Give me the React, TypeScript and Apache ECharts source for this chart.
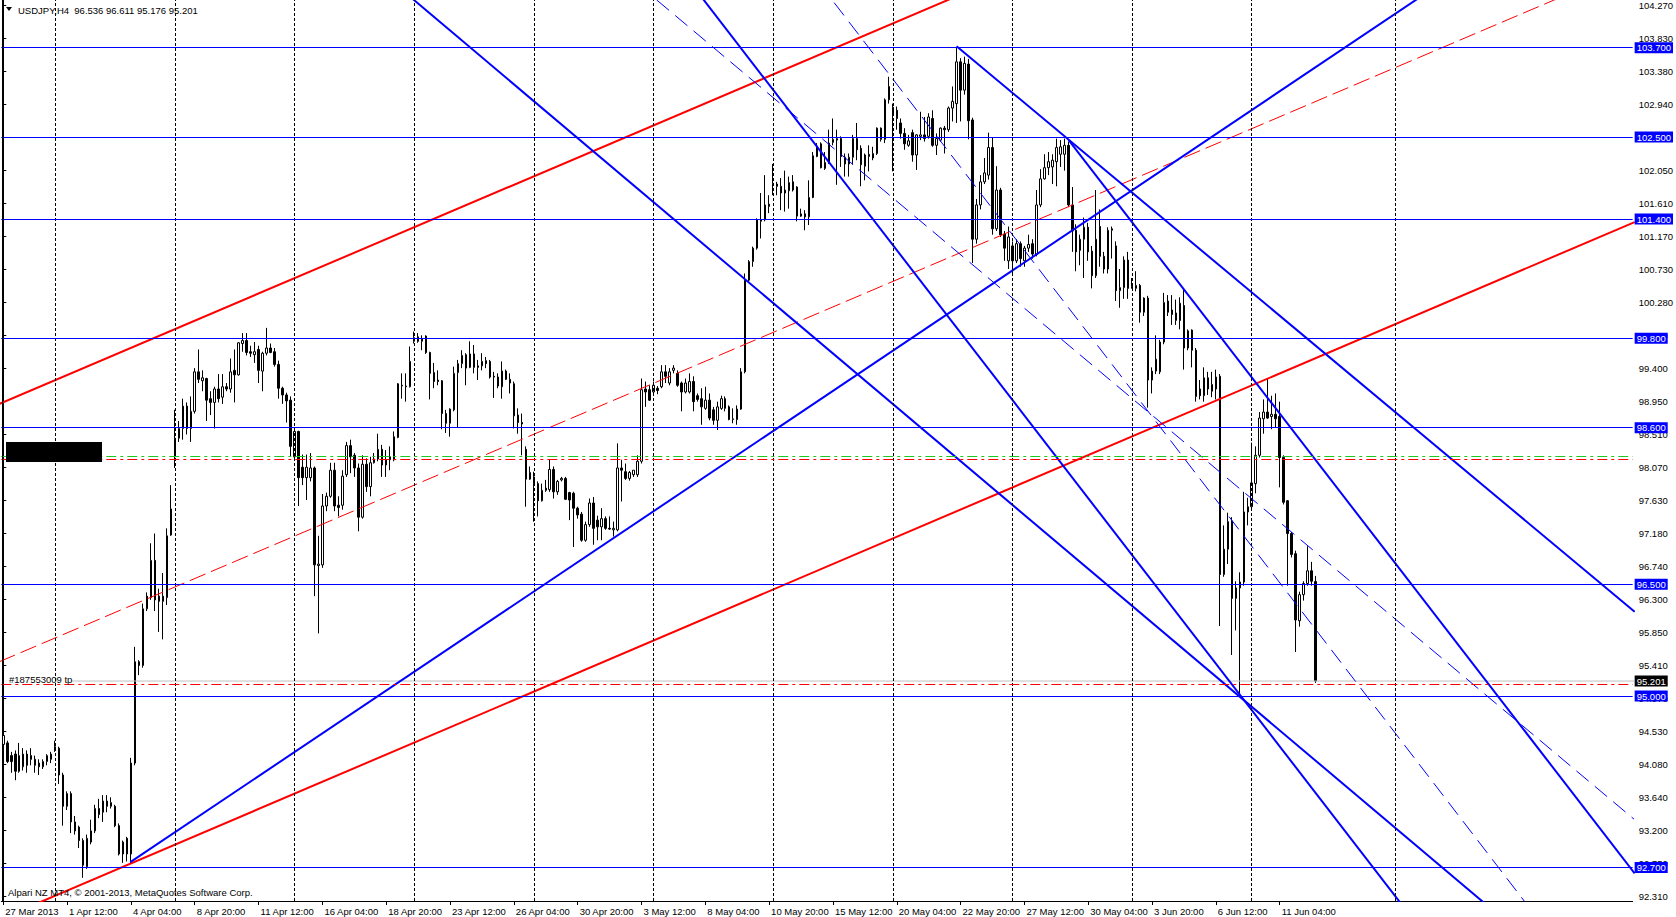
import React, { useEffect, useRef } from "react";
import * as echarts from "echarts";

const FONT = "'Liberation Sans', Arial, sans-serif";

// x-axis time labels (every 16th H4 bar)
const timeLabels = [
  "27 Mar 2013", "1 Apr 12:00", "4 Apr 04:00", "8 Apr 20:00", "11 Apr 12:00", "16 Apr 04:00",
  "18 Apr 20:00", "23 Apr 12:00", "26 Apr 04:00", "30 Apr 20:00", "3 May 12:00", "8 May 04:00",
  "10 May 20:00", "15 May 12:00", "20 May 04:00", "22 May 20:00", "27 May 12:00", "30 May 04:00",
  "3 Jun 20:00", "6 Jun 12:00", "11 Jun 04:00",
];

// y-axis tick labels
const priceTicks = [
  92.31, 92.75, 93.2, 93.64, 94.08, 94.53, 94.97, 95.41, 95.85, 96.3, 96.74, 97.18, 97.63, 98.07,
  98.51, 98.95, 99.4, 99.84, 100.28, 100.73, 101.17, 101.61, 102.05, 102.5, 102.94, 103.38, 103.83, 104.27,
];

// H4 candles: [open, high, low, close]
const ohlc: number[][] = [
  [94.35, 94.5, 94.32, 94.47], [94.37, 94.4, 94.1, 94.12], [94.2, 94.25, 93.97, 94.12], [94.22, 94.27, 93.87, 93.99],
  [93.99, 94.37, 93.97, 94.2], [94.05, 94.3, 94.0, 94.22], [94.22, 94.27, 93.97, 94.07], [94.2, 94.3, 94.07, 94.15],
  [94.15, 94.2, 93.97, 94.07], [94.1, 94.15, 93.94, 94.05],
  // 10
  [94.05, 94.15, 94.02, 94.12], [94.12, 94.22, 94.07, 94.2], [94.15, 94.25, 94.1, 94.22], [94.27, 94.4, 94.25, 94.32],
  [94.3, 94.32, 93.82, 93.94], [93.94, 93.97, 93.26, 93.52], [93.52, 93.72, 93.47, 93.69], [93.69, 93.72, 93.16, 93.31],
  [93.31, 93.39, 93.14, 93.19], [93.24, 93.26, 92.96, 93.06],
  // 20
  [93.06, 93.09, 92.56, 92.73], [92.71, 93.14, 92.68, 93.09], [93.04, 93.34, 93.01, 93.19], [93.19, 93.54, 93.16, 93.49],
  [93.49, 93.62, 93.36, 93.41], [93.44, 93.67, 93.31, 93.59], [93.59, 93.67, 93.44, 93.52], [93.52, 93.64, 93.49, 93.57],
  [93.52, 93.54, 93.24, 93.26], [93.26, 93.29, 92.86, 92.88],
  // 30
  [92.88, 93.06, 92.76, 93.04], [93.09, 93.11, 92.78, 92.88], [92.88, 94.17, 92.76, 94.1], [94.1, 95.66, 94.07, 95.46],
  [95.46, 95.48, 95.28, 95.41], [95.41, 96.24, 95.38, 96.17], [96.17, 96.39, 96.14, 96.34], [96.32, 97.05, 96.29, 96.82],
  [96.82, 97.18, 96.14, 96.29], [96.34, 96.44, 95.86, 96.27],
  // 40
  [96.27, 96.65, 95.76, 96.34], [96.32, 97.25, 96.22, 97.15], [97.16, 97.83, 97.15, 97.51], [98.21, 98.84, 98.06, 98.46],
  [98.46, 98.69, 98.41, 98.59], [98.59, 98.99, 98.44, 98.89], [98.89, 98.94, 98.51, 98.59], [98.59, 99.02, 98.41, 98.82],
  [98.82, 99.4, 98.79, 99.35], [99.35, 99.65, 99.2, 99.25],
  // 50
  [99.23, 99.37, 99.09, 99.27], [99.26, 99.27, 98.69, 98.97], [98.99, 99.09, 98.77, 98.94], [98.94, 99.15, 98.59, 99.12],
  [99.12, 99.32, 98.94, 98.99], [99.01, 99.32, 98.92, 99.15], [99.15, 99.2, 99.09, 99.12], [99.12, 99.53, 99.07, 99.35],
  [99.37, 99.65, 98.94, 99.31], [99.31, 99.75, 99.3, 99.74],
  // 60
  [99.73, 99.87, 99.62, 99.77], [99.77, 99.87, 99.57, 99.61], [99.62, 99.7, 99.55, 99.6], [99.58, 99.75, 99.47, 99.62],
  [99.65, 99.7, 99.2, 99.37], [99.36, 99.62, 99.09, 99.6], [99.6, 99.94, 99.57, 99.67], [99.67, 99.73, 99.6, 99.61],
  [99.62, 99.67, 99.42, 99.45], [99.45, 99.5, 98.99, 99.13],
  // 70
  [99.13, 99.15, 98.92, 99.04], [99.04, 99.07, 98.67, 98.96], [98.97, 99.02, 98.21, 98.35], [98.21, 98.59, 98.19, 98.55],
  [98.55, 98.56, 97.55, 97.93], [98.07, 98.24, 97.83, 97.93], [97.93, 98.24, 97.63, 98.07], [97.93, 98.26, 97.88, 98.06],
  [98.06, 98.08, 96.34, 96.76], [96.75, 97.15, 95.84, 96.77],
  // 80
  [96.76, 97.71, 96.72, 97.55], [97.55, 97.73, 97.48, 97.68], [97.68, 98.13, 97.66, 98.03], [98.03, 98.13, 97.48, 97.55],
  [97.56, 97.68, 97.41, 97.53], [97.56, 98.03, 97.5, 97.95], [97.97, 98.41, 97.94, 98.36], [98.36, 98.44, 97.99, 98.21],
  [98.23, 98.26, 97.94, 98.06], [98.06, 98.12, 97.21, 97.4],
  // 90
  [97.4, 98.23, 97.38, 98.11], [98.11, 98.19, 97.74, 97.81], [97.81, 98.21, 97.68, 98.13], [98.13, 98.26, 98.12, 98.18],
  [98.18, 98.52, 98.15, 98.31], [98.31, 98.37, 97.94, 98.1], [98.1, 98.3, 97.94, 98.17], [98.17, 98.35, 98.03, 98.21],
  [98.17, 98.55, 98.15, 98.48], [98.47, 99.2, 98.46, 99.19],
  // 100
  [99.16, 99.33, 98.99, 99.17], [99.16, 99.33, 98.95, 99.15], [99.15, 99.69, 99.14, 99.49], [99.76, 99.89, 99.73, 99.81],
  [99.82, 99.87, 99.74, 99.76], [99.76, 99.84, 99.64, 99.79], [99.83, 99.84, 99.59, 99.61], [99.61, 99.62, 98.98, 99.33],
  [99.34, 99.47, 99.13, 99.22], [99.24, 99.37, 99.17, 99.22],
  // 110
  [99.23, 99.24, 98.58, 98.79], [98.79, 98.84, 98.53, 98.66], [98.66, 98.86, 98.48, 98.85], [98.84, 99.42, 98.82, 99.33],
  [99.34, 99.51, 98.61, 99.46], [99.46, 99.64, 99.4, 99.57], [99.58, 99.6, 99.17, 99.4], [99.41, 99.76, 99.4, 99.59],
  [99.59, 99.71, 99.33, 99.41], [99.43, 99.51, 99.24, 99.41],
  // 120
  [99.43, 99.6, 99.37, 99.49], [99.5, 99.55, 99.4, 99.46], [99.49, 99.51, 99.26, 99.28], [99.29, 99.35, 99.0, 99.28],
  [99.28, 99.33, 99.13, 99.16], [99.15, 99.49, 98.99, 99.36], [99.36, 99.38, 99.24, 99.25], [99.25, 99.33, 99.06, 99.2],
  [99.19, 99.22, 98.59, 98.76], [98.77, 98.86, 98.52, 98.67],
  // 130
  [98.67, 98.79, 98.23, 98.65], [98.31, 98.35, 97.54, 97.91], [97.91, 98.08, 97.9, 98.0], [97.94, 98.01, 97.34, 97.85],
  [97.85, 97.88, 97.41, 97.62], [97.62, 97.85, 97.61, 97.76], [97.76, 97.9, 97.74, 97.79], [97.77, 98.17, 97.74, 98.04],
  [98.04, 98.08, 97.65, 97.74], [97.74, 97.9, 97.7, 97.88],
  // 140
  [97.9, 97.94, 97.88, 97.92], [97.92, 97.94, 97.63, 97.64], [97.73, 97.74, 97.36, 97.63], [97.72, 97.74, 97.0, 97.52],
  [97.52, 97.54, 97.38, 97.43], [97.44, 97.47, 97.07, 97.09], [97.09, 97.34, 97.07, 97.3], [97.3, 97.65, 97.27, 97.59],
  [97.59, 97.67, 97.03, 97.25], [97.36, 97.42, 97.09, 97.27],
  // 150
  [97.27, 97.52, 97.09, 97.38], [97.38, 97.41, 97.23, 97.25], [97.25, 97.41, 97.23, 97.24], [97.23, 97.34, 97.14, 97.25],
  [97.23, 98.39, 97.21, 98.06], [98.06, 98.17, 97.61, 98.03], [98.01, 98.12, 97.9, 97.92], [97.92, 98.02, 97.89, 98.0],
  [97.97, 98.03, 97.94, 98.03], [97.97, 98.23, 97.94, 98.15],
  // 160
  [98.15, 99.26, 98.12, 99.11], [99.12, 99.22, 98.88, 99.08], [99.11, 99.17, 98.96, 98.97], [99.08, 99.22, 99.06, 99.17],
  [99.13, 99.16, 99.05, 99.1], [99.15, 99.44, 99.13, 99.35], [99.35, 99.44, 99.2, 99.29], [99.2, 99.4, 99.17, 99.35],
  [99.37, 99.44, 99.33, 99.4], [99.33, 99.37, 99.15, 99.17],
  // 170
  [99.2, 99.22, 98.82, 99.08], [99.08, 99.26, 99.06, 99.2], [99.08, 99.33, 99.06, 99.22], [99.22, 99.29, 98.82, 98.95],
  [99.03, 99.06, 98.95, 98.98], [98.99, 99.13, 98.64, 98.88], [98.86, 99.15, 98.84, 98.97], [98.97, 99.06, 98.7, 98.73],
  [98.84, 98.88, 98.64, 98.7], [98.7, 98.95, 98.57, 98.88],
  // 180
  [98.86, 99.03, 98.84, 98.99], [98.99, 99.02, 98.82, 98.86], [98.88, 98.9, 98.7, 98.71], [98.71, 98.86, 98.66, 98.72],
  [98.71, 98.9, 98.64, 98.85], [98.85, 99.4, 98.84, 99.35], [99.35, 100.67, 99.33, 100.58], [100.58, 100.85, 100.56, 100.83],
  [100.83, 101.03, 100.76, 101.01], [101.01, 101.41, 100.99, 101.39],
  // 190
  [101.37, 101.75, 101.14, 101.39], [101.39, 101.99, 101.37, 101.59], [101.6, 101.72, 101.48, 101.57], [101.88, 102.14, 101.72, 101.86],
  [101.87, 101.9, 101.72, 101.84], [101.84, 101.95, 101.52, 101.75], [101.75, 102.05, 101.5, 101.79], [101.78, 101.97, 101.54, 101.89],
  [101.9, 101.99, 101.77, 101.79], [101.83, 101.84, 101.37, 101.44],
  // 200
  [101.44, 101.54, 101.43, 101.47], [101.47, 101.52, 101.25, 101.43], [101.43, 101.92, 101.32, 101.69], [101.69, 102.3, 101.68, 102.25],
  [102.24, 102.42, 102.23, 102.38], [102.41, 102.43, 102.08, 102.09], [102.08, 102.3, 102.06, 102.16], [102.15, 102.6, 102.14, 102.42],
  [102.43, 102.75, 102.39, 102.47], [102.46, 102.6, 101.86, 102.48],
  // 210
  [102.48, 102.51, 102.1, 102.24], [102.23, 102.28, 101.97, 102.14], [102.14, 102.28, 101.97, 102.23], [102.23, 102.53, 102.13, 102.48],
  [102.48, 102.69, 102.19, 102.33], [102.35, 102.39, 101.84, 102.13], [102.11, 102.28, 101.92, 102.26], [102.24, 102.39, 102.04, 102.27],
  [102.22, 102.37, 102.19, 102.28], [102.28, 102.63, 102.26, 102.62],
  // 220
  [102.62, 102.63, 102.44, 102.47], [102.47, 103.02, 102.42, 103.0], [103.0, 103.31, 102.95, 103.18], [102.9, 102.95, 102.04, 102.8],
  [102.86, 102.91, 102.6, 102.75], [102.69, 102.75, 102.48, 102.55], [102.55, 102.62, 102.33, 102.41], [102.39, 102.53, 102.37, 102.45],
  [102.56, 102.6, 102.17, 102.26], [102.26, 102.54, 102.06, 102.53],
  // 230
  [102.51, 102.84, 102.46, 102.53], [102.53, 102.77, 102.44, 102.48], [102.51, 102.82, 102.48, 102.77], [102.75, 102.86, 102.37, 102.39],
  [102.39, 102.55, 102.26, 102.48], [102.46, 102.63, 102.44, 102.62], [102.62, 102.65, 102.28, 102.6], [102.6, 102.91, 102.57, 102.89],
  [102.89, 103.18, 102.71, 102.98], [102.95, 103.71, 102.69, 103.51],
  // 240
  [103.51, 103.56, 102.71, 103.13], [103.13, 103.58, 103.07, 103.49], [103.48, 103.55, 102.47, 102.72], [102.73, 102.76, 100.81, 101.13],
  [101.13, 101.67, 101.07, 101.59], [101.59, 101.99, 101.53, 101.9], [101.9, 102.22, 101.87, 102.02], [101.99, 102.56, 101.93, 102.36],
  [102.36, 102.5, 101.19, 101.27], [101.27, 102.11, 101.24, 101.79],
  // 250
  [101.79, 101.82, 101.16, 101.19], [101.2, 101.24, 100.84, 101.01], [100.84, 101.3, 100.73, 101.16], [101.04, 101.1, 100.67, 100.84],
  [100.84, 101.13, 100.81, 101.07], [101.07, 101.1, 100.76, 100.87], [100.84, 101.04, 100.76, 101.01], [101.01, 101.19, 100.96, 101.06],
  [101.07, 101.13, 100.87, 100.93], [100.93, 101.79, 100.9, 101.59],
  // 260
  [101.59, 102.07, 101.56, 101.94], [101.94, 102.27, 101.93, 102.09], [102.09, 102.3, 101.99, 102.17], [102.1, 102.27, 101.87, 102.19],
  [102.17, 102.48, 101.84, 102.36], [102.27, 102.46, 102.1, 102.37], [102.27, 102.48, 102.05, 102.39], [102.39, 102.44, 101.56, 101.59],
  [101.59, 101.83, 100.96, 101.24], [101.25, 101.33, 100.7, 100.96],
  // 270
  [100.98, 101.19, 100.78, 101.13], [101.13, 101.42, 100.61, 101.29], [101.29, 101.35, 100.84, 100.96], [100.97, 101.04, 100.47, 100.64],
  [100.64, 101.79, 100.61, 101.13], [101.3, 101.53, 100.76, 100.9], [100.9, 100.96, 100.67, 100.73], [100.73, 101.29, 100.67, 101.25],
  [101.25, 101.3, 100.87, 101.27], [101.04, 101.1, 100.3, 100.44],
  // 280
  [100.44, 100.73, 100.21, 100.48], [100.48, 100.9, 100.33, 100.85], [100.85, 100.96, 100.33, 100.47], [100.47, 100.61, 100.47, 100.5],
  [100.47, 100.7, 100.43, 100.51], [100.51, 100.53, 100.01, 100.15], [100.15, 100.35, 100.1, 100.34], [100.34, 100.37, 98.87, 99.24],
  [99.24, 99.41, 99.06, 99.36], [99.36, 99.84, 99.32, 99.52],
  // 290
  [99.35, 99.78, 99.32, 99.75], [99.75, 100.41, 99.72, 100.28], [100.3, 100.38, 100.1, 100.15], [100.18, 100.38, 99.98, 100.12],
  [100.04, 100.32, 99.98, 100.14], [100.27, 100.35, 99.92, 100.04], [100.24, 100.47, 99.38, 99.67], [99.67, 99.92, 99.64, 99.9],
  [99.91, 99.92, 99.41, 99.64], [99.64, 99.67, 98.95, 99.02],
  // 300
  [99.12, 99.24, 98.98, 99.03], [99.03, 99.41, 98.95, 99.27], [99.27, 99.35, 99.04, 99.12], [99.09, 99.35, 99.01, 99.18],
  [99.12, 99.38, 98.98, 99.28], [99.29, 99.32, 95.94, 96.63], [96.63, 97.29, 96.6, 96.97], [96.97, 97.46, 96.77, 97.34],
  [97.35, 97.4, 95.55, 96.31], [96.31, 96.54, 95.88, 96.45],
  // 310
  [96.45, 96.66, 94.99, 96.53], [96.53, 97.74, 96.48, 97.47], [97.47, 97.66, 97.29, 97.54], [97.54, 98.4, 97.52, 97.86],
  [97.85, 98.35, 97.72, 98.23], [98.23, 98.81, 98.2, 98.73], [98.72, 98.98, 98.52, 98.81], [98.81, 99.26, 98.72, 98.73],
  [98.75, 99.03, 98.58, 98.78], [98.78, 99.06, 98.6, 98.72],
  // 320
  [98.75, 98.95, 97.8, 98.2], [98.2, 98.23, 97.57, 97.6], [97.62, 97.63, 96.48, 97.18], [97.18, 97.2, 96.86, 96.9],
  [96.91, 96.95, 95.59, 96.02], [96.01, 96.4, 95.93, 96.36], [96.36, 96.54, 96.28, 96.51], [96.51, 97.01, 96.48, 96.68],
  [96.68, 96.8, 96.48, 96.54], [96.536, 96.611, 95.176, 95.201],
];

// horizontal price levels (blue lines with price tags)
const levelPrices = [103.7, 102.5, 101.4, 99.8, 98.6, 96.5, 95.0, 92.7];
// order lines
const orderOpenPrice = 98.22;
const orderStopPrice = 98.18;
const orderTakeProfit = 95.16;
const bidPrice = 95.201;
const bidLineStart = 17;
// weekly grid (bar index)
const weekBars = [13, 43, 73, 103, 133, 163, 193, 223, 253, 283, 313, 349];

// trend lines: [barIndex, price] end points
const redChannelUpper = [[-1, 98.92], [300, 105.78]];
const redChannelLower = [[-1, 92.0], [409, 101.36]];
const redChannelMid = [[-1, 95.46], [409, 104.8]];
const blueRise = [[31.85, 92.77], [409, 106.31]];
const blueFallA = [[60, 106.28], [409, 90.52]];
const blueFallB = [[170, 104.73], [409, 88.15]];
const blueFallC = [[239, 103.72], [409, 96.13]];
const blueFallD = [[267.1, 102.46], [409, 92.62]];
const blueDashSteep = [[190, 105.58], [409, 90.32]];
const blueDashShallow = [[150, 104.96], [409, 93.34]];

const header = "USDJPY,H4\u00a0\u00a096.536 96.611 95.176 95.201";

const SLOTS = 409;
const W = 1676;
const H = 917;
const GRID_LEFT = 1.3;
const GRID_RIGHT = 40;
const GRID_BOTTOM = 16;
const Y_MIN = 92.249;
const Y_MAX = 104.34;

const BLUE = "#0000FF";
const RED = "#FF0000";

export default function App() {
  const ref = useRef<HTMLDivElement>(null);

  useEffect(() => {
    if (!ref.current) return;
    const chart = echarts.init(ref.current, undefined, { renderer: "svg" });

    const categories = Array.from({ length: SLOTS }, (_, i) =>
      i % 16 === 0 && i / 16 < timeLabels.length ? timeLabels[i / 16] : `#${i}`
    );
    const isLabel = (i: number) => i % 16 === 0 && i / 16 < timeLabels.length;
    const candles = ohlc.map(([o, h, l, c]) => [o, c, l, h]);

    const trend = (name: string, pts: number[][], color: string, width: number, type: any) => ({
      name,
      type: "line",
      xAxisIndex: 1,
      yAxisIndex: 0,
      data: pts,
      showSymbol: false,
      symbol: "none",
      clip: true,
      silent: true,
      z: 4,
      lineStyle: { color, width, type },
    });

    const tagLabel = (text: string, bg: string) => ({
      show: true,
      position: "end",
      distance: 2,
      formatter: () => text,
      backgroundColor: bg,
      color: "#fff",
      padding: [1, 2, 0, 2],
      fontSize: 9.5,
      lineHeight: 10,
      fontFamily: FONT,
    });

    const option: any = {
      animation: false,
      backgroundColor: "#ffffff",
      textStyle: { fontFamily: FONT },
      grid: { left: GRID_LEFT, right: GRID_RIGHT, top: 0, bottom: GRID_BOTTOM, containLabel: false },
      xAxis: [
        {
          type: "category",
          data: categories,
          boundaryGap: true,
          axisLine: { show: true, lineStyle: { color: "#000", width: 1 } },
          axisTick: {
            show: true,
            alignWithLabel: true,
            interval: (i: number) => isLabel(i),
            length: 4,
            lineStyle: { color: "#000" },
          },
          axisLabel: {
            interval: (i: number) => isLabel(i),
            align: "left",
            margin: 5,
            padding: [0, 0, 0, 2],
            fontSize: 9.5,
            color: "#000",
            fontFamily: FONT,
            hideOverlap: false,
          },
          splitLine: { show: false },
        },
        {
          type: "value",
          min: -0.5,
          max: SLOTS - 0.5,
          show: false,
          splitLine: { show: false },
        },
      ],
      yAxis: {
        type: "value",
        position: "right",
        min: Y_MIN,
        max: Y_MAX,
        scale: true,
        axisLine: { show: true, lineStyle: { color: "#000", width: 1 } },
        axisTick: { show: true, length: 3, customValues: priceTicks, lineStyle: { color: "#000" } },
        axisLabel: {
          customValues: priceTicks,
          formatter: (v: number) => v.toFixed(3),
          margin: 6,
          fontSize: 9.5,
          color: "#000",
          fontFamily: FONT,
        },
        splitLine: { show: false },
      },
      series: [
        {
          name: "grid",
          type: "line",
          xAxisIndex: 1,
          data: [[-20, 95]],
          showSymbol: false,
          silent: true,
          z: 1,
          markLine: {
            silent: true,
            symbol: ["none", "none"],
            label: { show: false },
            lineStyle: { color: "#000", width: 1, type: [3, 2] },
            data: weekBars.map((b) => ({ xAxis: b })),
          },
        },
        {
          name: "USDJPY,H4",
          type: "candlestick",
          xAxisIndex: 0,
          yAxisIndex: 0,
          data: candles,
          barWidth: 2,
          z: 2,
          itemStyle: {
            color: "#ffffff",
            color0: "#000000",
            borderColor: "#000000",
            borderColor0: "#000000",
            borderWidth: 1,
          },
        },
        {
          name: "bid",
          type: "line",
          xAxisIndex: 1,
          data: [[bidLineStart, bidPrice], [SLOTS, bidPrice]],
          showSymbol: false,
          silent: true,
          z: 3,
          lineStyle: { color: "#C0C0C0", width: 1 },
        },
        {
          name: "levels",
          type: "line",
          xAxisIndex: 1,
          data: [[-20, 95]],
          showSymbol: false,
          silent: true,
          z: 5,
          markLine: {
            silent: true,
            symbol: ["none", "none"],
            data: [
              ...levelPrices.map((p) => ({
                yAxis: p,
                lineStyle: { color: BLUE, width: 1, type: "solid" },
                label: tagLabel(p.toFixed(3), BLUE),
              })),
              {
                yAxis: orderOpenPrice,
                lineStyle: { color: "#1EC81E", width: 1, type: [10, 4, 3, 4] },
                label: { show: false },
              },
              {
                yAxis: orderStopPrice,
                lineStyle: { color: RED, width: 1, type: [10, 4, 3, 4] },
                label: { show: false },
              },
              {
                yAxis: orderTakeProfit,
                lineStyle: { color: RED, width: 1, type: [10, 4, 3, 4] },
                label: { show: false },
              },
              {
                yAxis: bidPrice,
                lineStyle: { color: "rgba(0,0,0,0)", width: 0 },
                label: tagLabel(bidPrice.toFixed(3), "#000"),
              },
            ],
          },
        },
        trend("redUpper", redChannelUpper, RED, 2, "solid"),
        trend("redLower", redChannelLower, RED, 2, "solid"),
        trend("redMid", redChannelMid, RED, 1, [17, 6]),
        trend("blueRise", blueRise, BLUE, 2, "solid"),
        trend("blueFallA", blueFallA, BLUE, 2, "solid"),
        trend("blueFallB", blueFallB, BLUE, 2, "solid"),
        trend("blueFallC", blueFallC, BLUE, 2, "solid"),
        trend("blueFallD", blueFallD, BLUE, 2, "solid"),
        trend("blueDashSteep", blueDashSteep, BLUE, 1, [16, 8]),
        trend("blueDashShallow", blueDashShallow, BLUE, 1, [16, 8]),
      ],
      graphic: [
        {
          type: "line",
          shape: { x1: 2.5, y1: 0, x2: 2.5, y2: H - GRID_BOTTOM },
          style: { stroke: "#000", lineWidth: 1 },
          z: 50,
          silent: true,
        },
        {
          type: "rect",
          shape: { x: 6, y: 442, width: 96, height: 20 },
          style: { fill: "#000" },
          z: 60,
          silent: true,
        },
        {
          type: "polygon",
          shape: { points: [[6, 7], [12, 7], [9, 11]] },
          style: { fill: "#000" },
          z: 60,
          silent: true,
        },
        {
          type: "text",
          x: 18,
          y: 10,
          style: { text: header, fill: "#000", font: `9.5px ${FONT}`, verticalAlign: "middle" },
          z: 60,
          silent: true,
        },
        {
          type: "text",
          x: 9,
          y: 679,
          style: { text: "#187553009 tp", fill: "#000", font: `9.5px ${FONT}`, verticalAlign: "middle" },
          z: 60,
          silent: true,
        },
        {
          type: "text",
          x: 8,
          y: 892,
          style: {
            text: "Alpari NZ MT4, \u00a9 2001-2013, MetaQuotes Software Corp.",
            fill: "#000",
            font: `9.5px ${FONT}`,
            verticalAlign: "middle",
          },
          z: 60,
          silent: true,
        },
      ],
    };

    chart.setOption(option);
    return () => chart.dispose();
  }, []);

  return (
    <div
      ref={ref}
      style={{ position: "fixed", left: 0, top: 0, width: W, height: H, background: "#fff" }}
    />
  );
}
